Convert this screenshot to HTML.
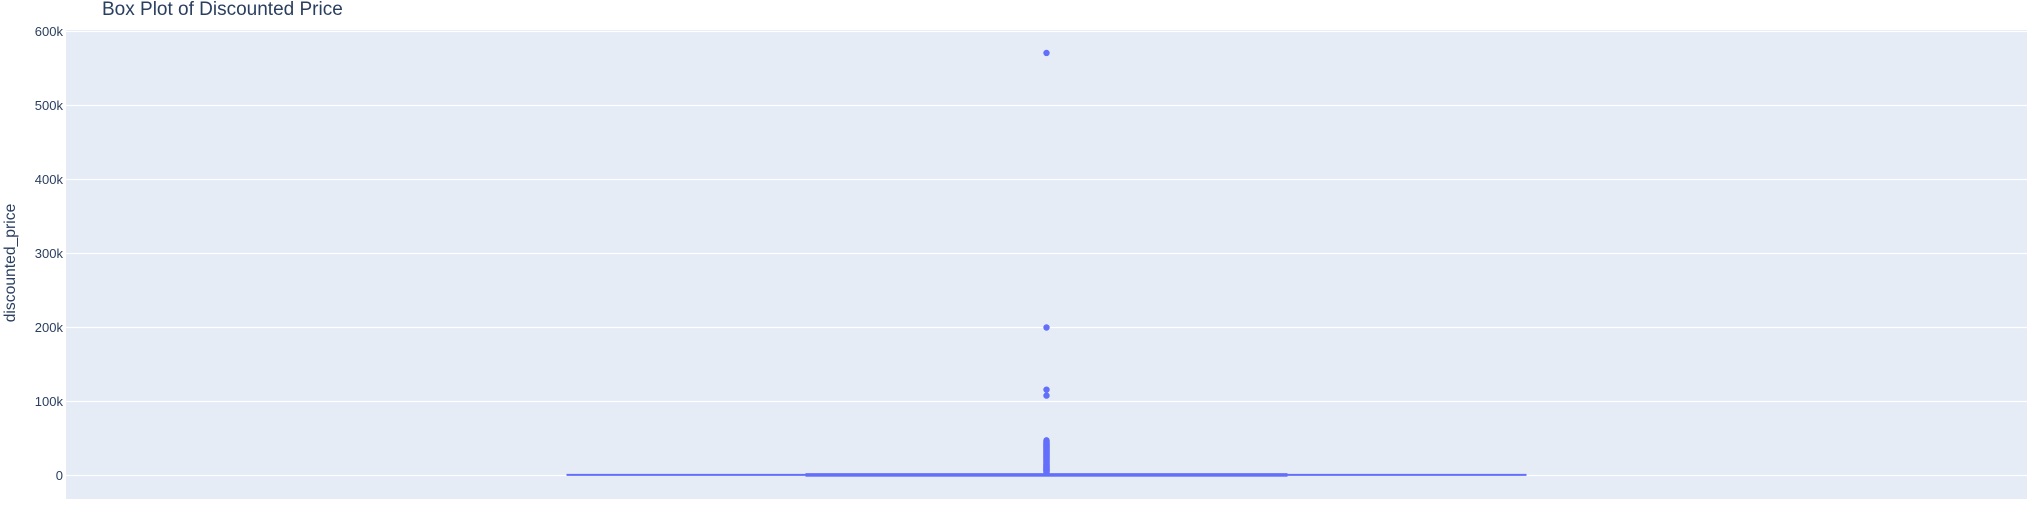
<!DOCTYPE html>
<html><head><meta charset="utf-8"><style>
html,body{margin:0;padding:0;background:#fff;}
svg{display:block;font-family:"Liberation Sans",sans-serif;}
</style></head><body>
<svg id="chart" width="2036" height="525">
<rect x="66" y="30" width="1961" height="469" fill="#e5ecf6"/>
<g id="grid"></g><g id="ticks"></g><g id="marks"></g>
<text x="102" y="15" font-size="19" fill="#2a3f5f">Box Plot of Discounted Price</text>
<text transform="translate(15,263) rotate(-90)" text-anchor="middle" font-size="15.7" fill="#2a3f5f">discounted_price</text>
</svg>
<script>
const yTicks=[0,100000,200000,300000,400000,500000,600000];
const yTickLabels=["0","100k","200k","300k","400k","500k","600k"];
const boxStats=[0,400,900,2500,6000]; // min,q1,median,q3,upper fence
const outliers=[571000,200000,116000,108000,47500,46500,45000,44000,42500,41000,40000,38500,37000,35000,33000,31000,29000,27000,25000,23000,21000,19000,17000,15000,13500,12000,11000,10000,9000,8000,7000,6500];
const NS='http://www.w3.org/2000/svg';
const yTop=31.5,yBot=475.5,xL=66,xR=2027;
function yS(v){return yBot-(v/600000)*(yBot-yTop);}
function mk(t,a,p){const e=document.createElementNS(NS,t);for(const k in a)e.setAttribute(k,a[k]);document.getElementById(p).appendChild(e);return e;}
yTicks.forEach((v,i)=>{
 const g=mk('line',{x1:xL,x2:xR,y1:yS(v),y2:yS(v),stroke:'#fff','stroke-width':1.3},'grid');
 
 
 const t=mk('text',{x:63,y:yS(v)+4.5,'text-anchor':'end','font-size':13,fill:'#2a3f5f'},'ticks');
 t.textContent=yTickLabels[i];
 
 
});
const cx=(xL+xR)/2,bw=240,ww=480;
const wl=mk('line',{x1:cx-ww,x2:cx+ww,y1:yS(boxStats[2]),y2:yS(boxStats[2]),stroke:'#636efa','stroke-width':2},'marks');


const bx=mk('rect',{x:cx-bw,y:yS(boxStats[3])+0.5,width:bw*2,height:Math.max(1.5,yS(boxStats[1])-yS(boxStats[3])),fill:'rgba(99,110,250,0.5)',stroke:'#636efa','stroke-width':2},'marks');


outliers.forEach(v=>{
 const c=mk('circle',{cx:cx,cy:yS(v),r:3.2,fill:'#636efa'},'marks');
 
 
});
const s=mk('rect',{x:cx-3.2,y:yS(47500),width:6.4,height:yS(0)-yS(47500)+1,rx:3,fill:'#636efa'},'marks');


</script>
</body></html>
